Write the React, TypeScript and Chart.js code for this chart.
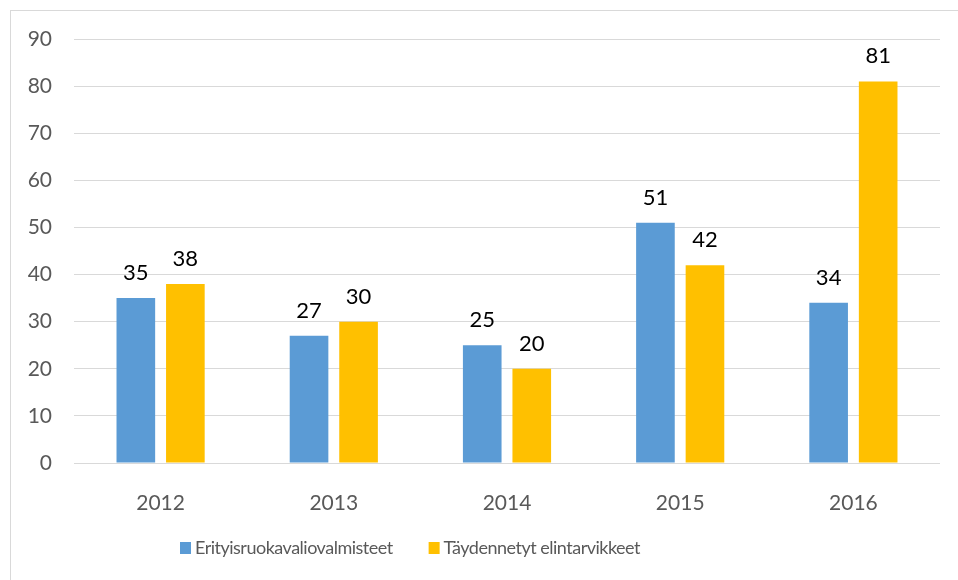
import React, { useEffect, useRef } from "react";
import { Chart, registerables } from "chart.js";

Chart.register(...registerables);

const years = ["2012", "2013", "2014", "2015", "2016"];
const erityis = [35, 27, 25, 51, 34];
const taydennetyt = [38, 30, 20, 42, 81];
const seriesNames = ["Erityisruokavaliovalmisteet", "Täydennetyt elintarvikkeet"];
const seriesColors = ["#5B9BD5", "#FFC000"];
const yTicks = [0, 10, 20, 30, 40, 50, 60, 70, 80, 90];

const FONT = "Lato, 'Open Sans', sans-serif";

const framePlugin = {
  id: "frame",
  beforeDraw(chart: any) {
    const ctx = chart.ctx;
    ctx.save();
    ctx.fillStyle = "#ffffff";
    ctx.fillRect(0, 0, chart.width, chart.height);
    ctx.strokeStyle = "#d9d9d9";
    ctx.lineWidth = 1;
    ctx.strokeRect(10.5, 10.5, 2000, 2000);
    ctx.restore();
  },
};

const labelPlugin = {
  id: "valueLabels",
  afterDatasetsDraw(chart: any) {
    const ctx = chart.ctx;
    ctx.save();
    ctx.font = `22px ${FONT}`;
    ctx.fillStyle = "#000000";
    ctx.textAlign = "center";
    ctx.textBaseline = "middle";
    chart.data.datasets.forEach((ds: any, i: number) => {
      const meta = chart.getDatasetMeta(i);
      meta.data.forEach((el: any, j: number) => {
        ctx.fillText(String(ds.data[j]), el.x, el.y - 25);
      });
    });
    ctx.restore();
  },
};

const legendPlugin = {
  id: "customLegend",
  afterDraw(chart: any) {
    const ctx = chart.ctx;
    ctx.save();
    ctx.font = `18px ${FONT}`;
    try {
      (ctx as any).letterSpacing = "-0.5px";
    } catch (e) {}
    ctx.textBaseline = "middle";
    ctx.textAlign = "left";
    const y = 548;
    let x = 180;
    chart.data.datasets.forEach((ds: any) => {
      ctx.fillStyle = ds.backgroundColor;
      ctx.fillRect(x, y - 6, 11, 12);
      ctx.fillStyle = "#595959";
      const tx = x + 15;
      ctx.fillText(ds.label, tx, y);
      x = tx + ctx.measureText(ds.label).width + 36;
    });
    ctx.restore();
  },
};

export default function App() {
  const ref = useRef<HTMLCanvasElement>(null);

  useEffect(() => {
    if (!ref.current) return;
    const chart = new Chart(ref.current, {
      type: "bar",
      data: {
        labels: years,
        datasets: [
          {
            label: seriesNames[0],
            data: erityis,
            backgroundColor: seriesColors[0],
            categoryPercentage: 0.572,
            barPercentage: 0.78,
          },
          {
            label: seriesNames[1],
            data: taydennetyt,
            backgroundColor: seriesColors[1],
            categoryPercentage: 0.572,
            barPercentage: 0.78,
          },
        ],
      },
      options: {
        animation: false,
        responsive: false,
        layout: { padding: { left: 0, right: 18, top: 39, bottom: 67 } },
        plugins: {
          legend: { display: false },
          tooltip: { enabled: false },
        },
        scales: {
          x: {
            grid: { display: false },
            border: { display: false },
            ticks: {
              color: "#595959",
              font: { family: FONT, size: 21 },
              padding: 20,
            },
            afterFit(scale: any) {
              scale.height = 50;
            },
          },
          y: {
            min: 0,
            max: 90,
            afterBuildTicks(scale: any) {
              scale.ticks = yTicks.map((v) => ({ value: v }));
            },
            grid: { color: "#d9d9d9", lineWidth: 1, drawTicks: false },
            border: { display: false },
            ticks: {
              color: "#595959",
              font: { family: FONT, size: 21 },
              padding: 22,
            },
            afterFit(scale: any) {
              scale.width = 74;
            },
          },
        },
      },
      plugins: [framePlugin, labelPlugin, legendPlugin],
    });
    return () => chart.destroy();
  }, []);

  return (
    <div style={{ position: "fixed", left: 0, top: 0, width: 958, height: 580 }}>
      <canvas ref={ref} width={958} height={580} />
    </div>
  );
}
